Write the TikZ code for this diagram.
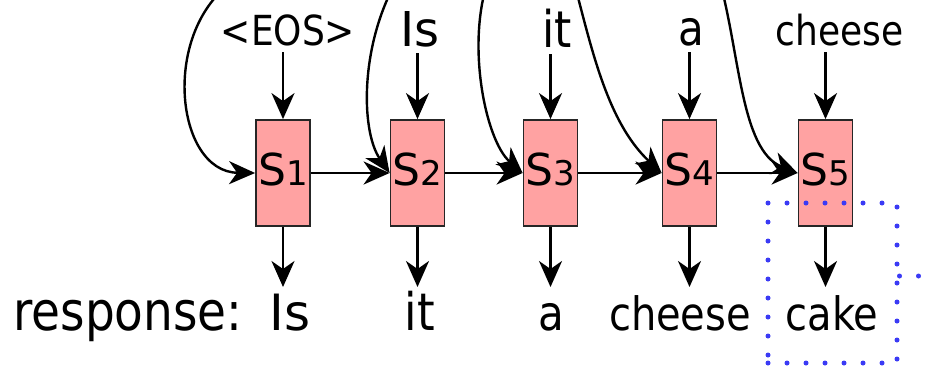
\documentclass[tikz,border=0pt]{standalone}
\usepackage{fontspec}
\setmainfont{DejaVu Sans}
\usetikzlibrary{arrows.meta,calc}
\definecolor{cellfill}{HTML}{FFA2A2}
\definecolor{dotblue}{HTML}{3A3AF5}
\newcommand\wsize[1]{\fontsize{#1}{#1}\selectfont}
\newcommand\tallword[1]{\scalebox{1}[1.15]{#1}}
\begin{document}
\begin{tikzpicture}[x=1pt,y=-1pt,
  cell/.style={draw=black!85, line width=1.8pt, fill=cellfill,
    minimum width=54pt, minimum height=106pt, inner sep=0pt,
    text height=32pt, text depth=8pt},
  arr/.style={line width=2.4pt, -{Stealth[length=26pt,width=23pt,inset=8pt]}},
  word/.style={anchor=base, inner sep=0pt},
  dotline/.style={draw=dotblue, line width=5pt, line cap=round,
    dash pattern=on 0pt off 19pt},
  hlbox/.style={dotline, minimum width=129pt, minimum height=160pt, inner sep=0pt}
]
\useasboundingbox (0,0) rectangle (925,368);
\clip (0,0) rectangle (925,368);

% decoder cells
\node[cell] (s1) at (283,173)   {{\wsize{44}S}{\wsize{34}1}};
\node[cell] (s2) at (417.5,173) {{\wsize{44}S}{\wsize{34}2}};
\node[cell] (s3) at (550.5,173) {{\wsize{44}S}{\wsize{34}3}};
\node[cell] (s4) at (689.5,173) {{\wsize{44}S}{\wsize{34}4}};
\node[cell] (s5) at (825.5,173) {{\wsize{44}S}{\wsize{34}5}};

% input tokens
\node[word, font=\wsize{36}] (t1) at (288,45)   {\tallword{<EOS>}};
\node[word, font=\wsize{48}] (t2) at (420,46)   {Is};
\node[word, font=\wsize{44}] (t3) at (557,47)   {\tallword{it}};
\node[word, font=\wsize{42}] (t4) at (691,45)   {\tallword{a}};
\node[word, font=\wsize{36}] (t5) at (839.5,45) {\tallword{cheese}};

% output tokens
\node[word, font=\wsize{47}] (r0) at (128,330) {\tallword{response:}};
\node[word, font=\wsize{50}] (r1) at (290,330) {Is};
\node[word, font=\wsize{45}] (r2) at (420,330) {\tallword{it}};
\node[word, font=\wsize{42}] (r3) at (551,330) {\tallword{a}};
\node[word, font=\wsize{40}] (r4) at (680,330) {\tallword{cheese}};
\node[word, font=\wsize{40}] (r5) at (832,330) {\tallword{cake}};

% token inputs into the cells and outputs below them
\foreach \i in {1,...,5}{
  \draw[arr, shorten <=7pt] (t\i.base -| s\i.north) -- (s\i.north);
  \draw[arr, shorten >=43pt] (s\i.south) -- (s\i.south |- r\i.base);
}

% recurrent state
\draw[arr] (s1) -- (s2);
\draw[arr] (s2) -- (s3);
\draw[arr] (s3) -- (s4);
\draw[arr] (s4) -- (s5);

% context links entering from above
\coordinate (c1) at (235,-20);
\coordinate (c2) at (400,-25);
\coordinate (c3) at (490,-25);
\coordinate (c4) at (572,-25);
\coordinate (c5) at (718,-25);
\draw[arr] (c1) .. controls (160,30) and (175,172) .. (s1.west);
\draw[arr] (c2) .. controls (360,40) and (360,130) .. (s2.west);
\draw[arr] (c3) .. controls (465,40) and (485,140) .. (s3.west);
\draw[arr] (c4) .. controls (590,40) and (605,120) .. (s4.west);
\draw[arr] (c5) .. controls (740,50) and (740,150) .. (s5.west);

% highlighted last step
\node[hlbox] (hl) at (832.5,283) {};
\coordinate (lead) at (940,276);
\draw[dotline] ([yshift=7pt]hl.east) -- (lead);
\end{tikzpicture}
\end{document}
